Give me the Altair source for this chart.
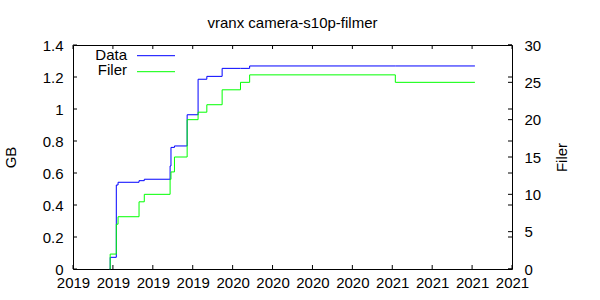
import altair as alt
import pandas as pd

# ---- data ----
dates = ["2019-03-26", "2019-03-27", "2019-04-10", "2019-04-14", "2019-06-01",
         "2019-06-13", "2019-08-11", "2019-08-13", "2019-08-21", "2019-09-19",
         "2019-10-14", "2019-11-03", "2019-12-08", "2020-01-19", "2020-02-09",
         "2021-01-08", "2021-07-09"]
data_gb = [0, 0.073, 0.525, 0.542, 0.552, 0.561, 0.644, 0.760, 0.769, 0.964,
           1.186, 1.204, 1.254, 1.254, 1.269, 1.269, 1.269]
filer_count = [0, 2, 6, 7, 9, 10, 12, 13, 15, 20, 21, 22, 24, 25, 26, 25, 25]

x_ticks = [2019.0, 2019.25, 2019.5, 2019.75, 2020.0, 2020.25, 2020.5, 2020.75,
           2021.0, 2021.25, 2021.5, 2021.75]
gb_ticks = [0, 0.2, 0.4, 0.6, 0.8, 1.0, 1.2, 1.4]
filer_ticks = [0, 5, 10, 15, 20, 25, 30]
legend_labels = ["Data", "Filer"]
colors = ["#0000ff", "#00ff00"]
title_text = "vranx camera-s10p-filmer"

FONT = "Liberation Sans"
FS = 15
W, H = 439, 224


def dec_year(s):
    d = pd.Timestamp(s)
    start = pd.Timestamp(year=d.year, month=1, day=1)
    end = pd.Timestamp(year=d.year + 1, month=1, day=1)
    return d.year + (d - start) / (end - start)


df = pd.DataFrame({"t": [dec_year(s) for s in dates], "gb": data_gb, "filer": filer_count})
xt_df = pd.DataFrame({"t": x_ticks})
gbt_df = pd.DataFrame({"gb": gb_ticks})
ft_df = pd.DataFrame({"filer": filer_ticks})

xscale = alt.Scale(domain=[2019, 2021.75], nice=False, zero=False)
gbscale = alt.Scale(domain=[0, 1.4], nice=False)
fscale = alt.Scale(domain=[0, 30], nice=False)

common = dict(tickSize=0, domain=False, grid=False, labelFont=FONT, labelFontSize=FS,
              labelColor="black", titleFont=FONT, titleFontSize=FS, titleColor="black",
              titleFontWeight="normal", labelFlush=False, labelOverlap=False)

xaxis = alt.Axis(values=x_ticks, labelExpr="'' + floor(datum.value + 0.001)",
                 labelPadding=6, title=None, **common)
gbaxis = alt.Axis(values=gb_ticks, format="~g", labelPadding=10, title="GB",
                  titleX=-63, titleY=112, titleAngle=270, titleAlign="center",
                  titleBaseline="middle", **common)
faxis = alt.Axis(values=filer_ticks, orient="right", labelPadding=12, title="Filer",
                 titleX=49, titleY=112, titleAngle=270, titleAlign="center",
                 titleBaseline="middle", **common)

X = alt.X("t:Q", scale=xscale, axis=xaxis)
Ygb = alt.Y("gb:Q", scale=gbscale, axis=gbaxis)
Yf = alt.Y("filer:Q", scale=fscale, axis=faxis)

blue = alt.Chart(df).mark_line(interpolate="step-after", color=colors[0], strokeWidth=1).encode(x=X, y=Ygb)
green = alt.Chart(df).mark_line(interpolate="step-after", color=colors[1], strokeWidth=1).encode(x=X, y=Yf)

TL = 4
gb_left = alt.Chart(gbt_df).mark_rule(color="black", strokeWidth=1).encode(
    y=Ygb, x=alt.value(0), x2=alt.value(TL))
gb_right = alt.Chart(gbt_df).mark_rule(color="black", strokeWidth=1).encode(
    y=Ygb, x=alt.value(W - TL), x2=alt.value(W))
f_right = alt.Chart(ft_df).mark_rule(color="black", strokeWidth=1).encode(
    y=Yf, x=alt.value(W - TL), x2=alt.value(W))
x_bot = alt.Chart(xt_df).mark_rule(color="black", strokeWidth=1).encode(
    x=X, y=alt.value(H), y2=alt.value(H - TL))
x_top = alt.Chart(xt_df).mark_rule(color="black", strokeWidth=1).encode(
    x=X, y=alt.value(0), y2=alt.value(TL))

leg = []
for i, (lab, col) in enumerate(zip(legend_labels, colors)):
    ldf = pd.DataFrame({"label": [lab]})
    ty = 10 + i * 14.5
    ry = 10.7 + i * 16
    leg.append(alt.Chart(ldf).mark_text(align="right", baseline="middle", font=FONT,
                                        fontSize=FS, color="black").encode(
        text="label:N", x=alt.value(54), y=alt.value(ty)))
    leg.append(alt.Chart(ldf).mark_rule(color=col, strokeWidth=1).encode(
        x=alt.value(64), x2=alt.value(102), y=alt.value(ry)))

g1 = alt.layer(gb_left, gb_right, x_bot, x_top, blue, *leg)
g2 = alt.layer(f_right, green)

chart = alt.layer(g1, g2).resolve_scale(y="independent").properties(
    width=W, height=H,
    title=alt.TitleParams(title_text, font=FONT, fontSize=FS, fontWeight="normal",
                          color="black", baseline="alphabetic", offset=19, dy=24,
                          anchor="middle", frame="group"),
    autosize=alt.AutoSizeParams(type="none"),
    padding={"left": 73, "top": 45, "right": 88, "bottom": 31},
    background="white",
).configure_view(stroke="black", strokeWidth=1)

chart.save("out.html", embed_options={"renderer": "svg", "actions": False})
